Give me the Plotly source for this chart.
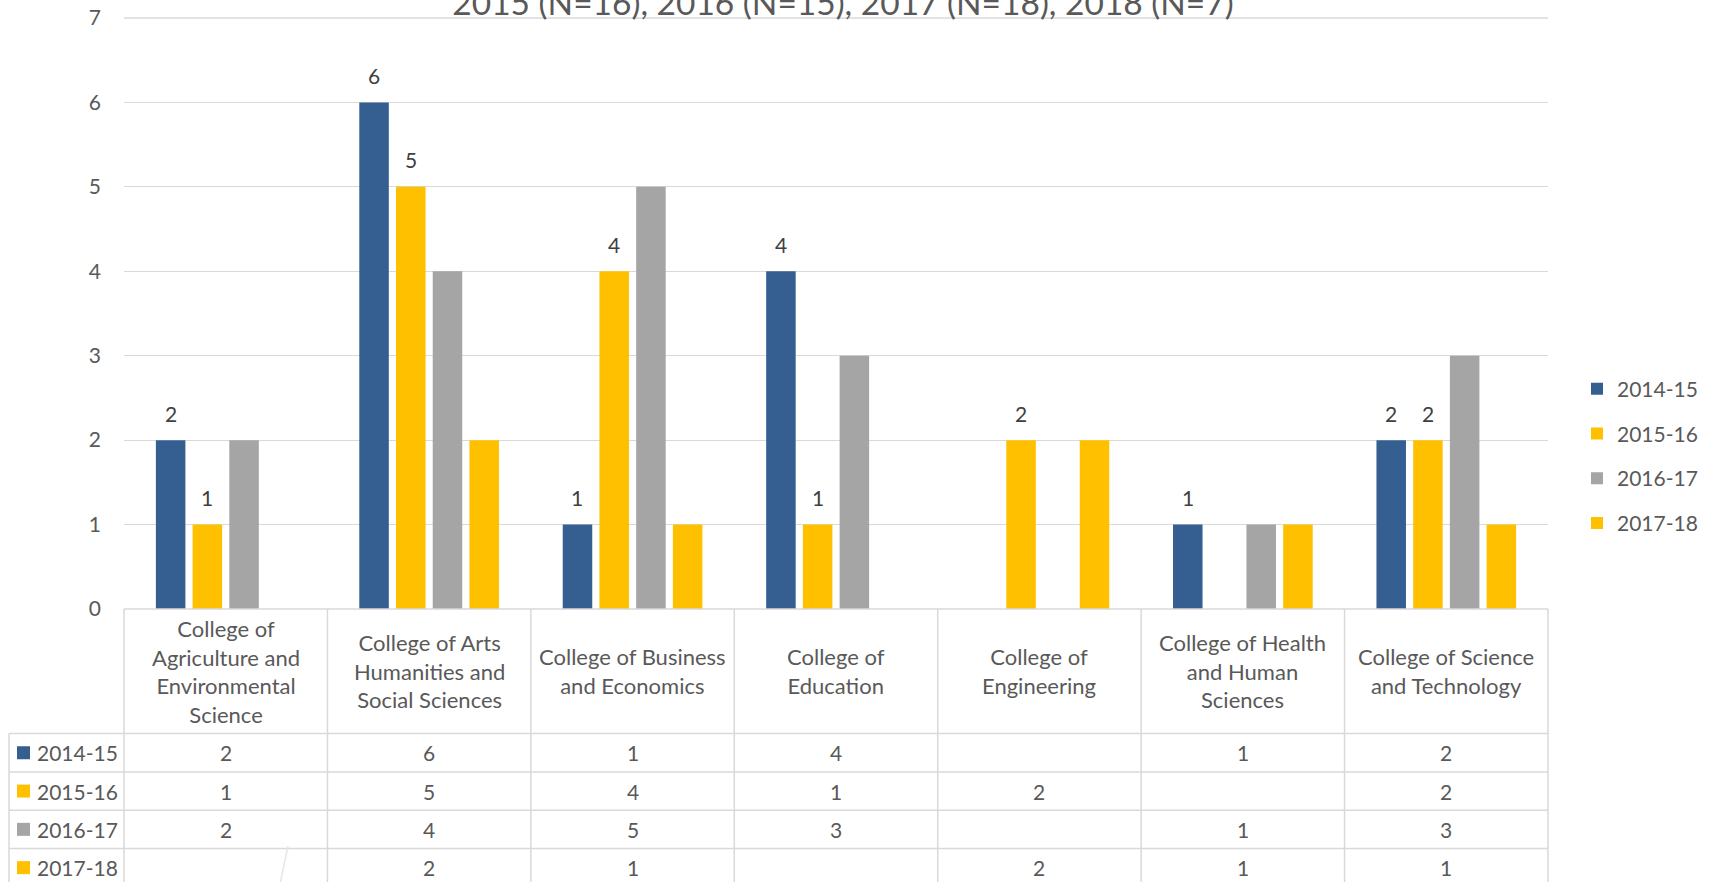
import plotly.graph_objects as go

# ---------------- data ----------------
categories = [
    "College of Agriculture and Environmental Science",
    "College of Arts Humanities and Social Sciences",
    "College of Business and Economics",
    "College of Education",
    "College of Engineering",
    "College of Health and Human Sciences",
    "College of Science and Technology",
]
category_labels = [
    "College of<br>Agriculture and<br>Environmental<br>Science",
    "College of Arts<br>Humanities and<br>Social Sciences",
    "College of Business<br>and Economics",
    "College of<br>Education",
    "College of<br>Engineering",
    "College of Health<br>and Human<br>Sciences",
    "College of Science<br>and Technology",
]
series_names = ["2014-15", "2015-16", "2016-17", "2017-18"]
v_2014_15 = [2, 6, 1, 4, None, 1, 2]
v_2015_16 = [1, 5, 4, 1, 2, None, 2]
v_2016_17 = [2, 4, 5, 3, None, 1, 3]
v_2017_18 = [None, 2, 1, None, 2, 1, 1]
series_values = [v_2014_15, v_2015_16, v_2016_17, v_2017_18]
series_colors = ["#365F91", "#FFC000", "#A5A5A5", "#FFC000"]
series_labelled = [True, True, False, False]
title_text = "2015 (N=16), 2016 (N=15), 2017 (N=18), 2018 (N=7)"
y_tick_values = [0, 1, 2, 3, 4, 5, 6, 7]

# ---------------- geometry ----------------
W, H = 1714, 882
L, R, T, B = 124, 1548, 18, 609          # plot area in pixels
BARGAP, GROUPGAP = 0.278, 0.196
FONT = "Lato"
TXT = "#595959"
GRID = "#d9d9d9"
FS = 21


def px(x):
    return (x - L) / (R - L)


def py(y):
    return (B - y) / (B - T)


fig = go.Figure()
for name, vals, col in zip(series_names, series_values, series_colors):
    fig.add_trace(go.Bar(
        x=categories, y=vals, name=name, legendgroup=name,
        marker=dict(color=col, line=dict(width=0)),
    ))

annotations = []
shapes = []

# data labels above bars (first two series)
col_w = (R - L) / len(categories)
slot = col_w * (1 - BARGAP) / len(series_names)
for i, (vals, lab) in enumerate(zip(series_values, series_labelled)):
    if not lab:
        continue
    for c, v in zip(categories, vals):
        if v is None:
            continue
        annotations.append(dict(
            x=c, y=v, xref="x", yref="y", text=str(v), showarrow=False,
            xshift=(i - (len(series_names) - 1) / 2) * slot, yshift=27,
            yanchor="middle", font=dict(family=FONT, size=FS, color="#404040"),
        ))

# ---------------- data table ----------------
header_bottom = 733.6
row_h = 38.3
table_left = 9
bottom = 900

# header labels
for c, lab in zip(categories, category_labels):
    annotations.append(dict(
        x=c, xref="x", y=py((B + header_bottom) / 2), yref="paper", text=lab,
        showarrow=False, yanchor="middle", xanchor="center",
        font=dict(family=FONT, size=22, color=TXT),
    ))

# rows
for r, (name, vals, col) in enumerate(zip(series_names, series_values, series_colors)):
    cy = header_bottom + row_h * (r + 0.5)
    shapes.append(dict(type="rect", xref="paper", yref="paper",
                       x0=px(17), x1=px(30), y0=py(cy - 6.5), y1=py(cy + 6.5),
                       fillcolor=col, line=dict(width=0)))
    annotations.append(dict(
        x=px(35), xref="paper", y=py(cy), yref="paper", text=name,
        showarrow=False, xanchor="left", yanchor="middle",
        font=dict(family=FONT, size=FS, color=TXT),
    ))
    for c, v in zip(categories, vals):
        if v is None:
            continue
        annotations.append(dict(
            x=c, xref="x", y=py(cy), yref="paper", text=str(v),
            showarrow=False, xanchor="center", yanchor="middle",
            font=dict(family=FONT, size=FS, color=TXT),
        ))

line_style = dict(color=GRID, width=1.5)
# top border of the table (axis line)
shapes.append(dict(type="line", xref="paper", yref="paper",
                   x0=0, x1=1, y0=py(B), y1=py(B), line=line_style))
# top gridline (value 7)
shapes.append(dict(type="line", xref="paper", yref="paper",
                   x0=0, x1=1, y0=1, y1=1, line=dict(color=GRID, width=1.3)))
# horizontal row lines
for r in range(len(series_names)):
    yy = header_bottom + row_h * r
    shapes.append(dict(type="line", xref="paper", yref="paper",
                       x0=px(table_left), x1=1, y0=py(yy), y1=py(yy), line=line_style))
# vertical lines
for k in range(len(categories) + 1):
    xx = L + k * col_w
    shapes.append(dict(type="line", xref="paper", yref="paper",
                       x0=px(xx), x1=px(xx), y0=py(B), y1=py(bottom), line=line_style))
shapes.append(dict(type="line", xref="paper", yref="paper",
                   x0=px(table_left), x1=px(table_left), y0=py(header_bottom), y1=py(bottom),
                   line=line_style))
# faint stray stroke seen in the original
shapes.append(dict(type="line", xref="paper", yref="paper",
                   x0=px(288), x1=px(280), y0=py(846), y1=py(884),
                   line=dict(color="#e6e6e6", width=1.5)))

fig.update_layout(
    width=W, height=H,
    margin=dict(l=L, r=W - R, t=T, b=H - B, pad=0, autoexpand=False),
    paper_bgcolor="white", plot_bgcolor="white",
    barmode="group", bargap=BARGAP, bargroupgap=GROUPGAP,
    font=dict(family=FONT, size=FS, color=TXT),
    title=dict(text=title_text, x=843 / W, xref="container", xanchor="center",
               y=1 - 3.5 / H, yref="container", yanchor="middle",
               font=dict(family=FONT, size=33.5, color=TXT)),
    xaxis=dict(showticklabels=False, showgrid=False, zeroline=False, showline=False,
               ticks="", range=[-0.5, len(categories) - 0.5], automargin=False),
    yaxis=dict(range=[0, 7], tickvals=y_tick_values, showgrid=True, gridcolor=GRID,
               gridwidth=1.3, zeroline=False, showline=False, ticks="",
               ticklabelstandoff=22, automargin=False,
               tickfont=dict(family=FONT, size=FS, color=TXT)),
    legend=dict(x=px(1577), xanchor="left", y=py(456), yanchor="middle",
                font=dict(family=FONT, size=FS, color=TXT),
                traceorder="grouped", tracegroupgap=14.5, bgcolor="rgba(0,0,0,0)"),
    annotations=annotations,
    shapes=shapes,
)

fig.write_html("out.html")
